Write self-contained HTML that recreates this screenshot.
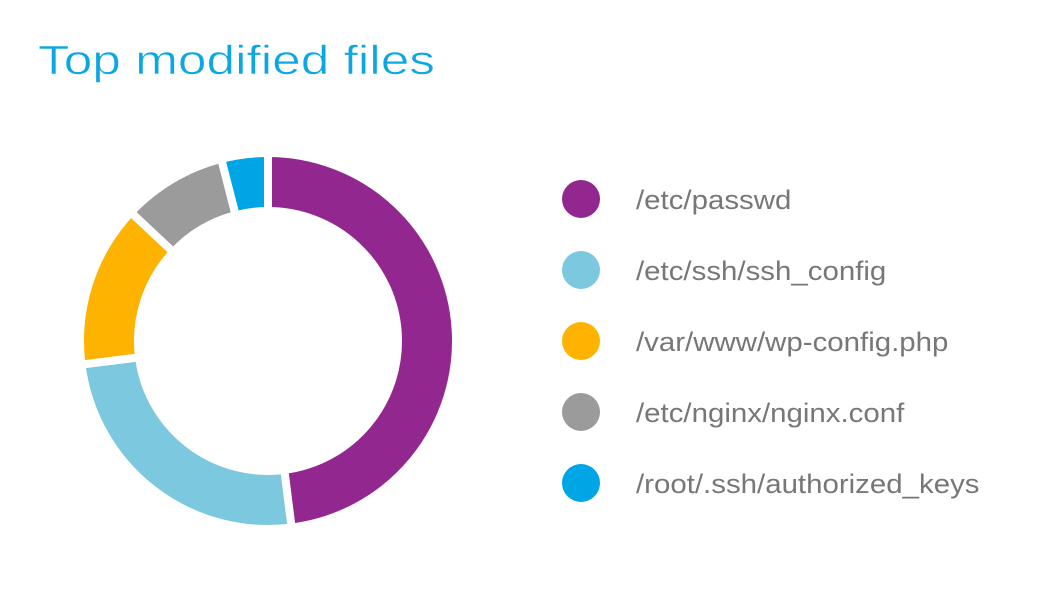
<!DOCTYPE html>
<html><head><meta charset="utf-8"><style>
body{margin:0;background:#fff;width:1050px;height:600px;overflow:hidden}
</style></head><body>
<svg width="1050" height="600">
<text x="38" y="74" font-family="Liberation Sans, sans-serif" font-size="41" fill="#0ba7e3" stroke="#fff" stroke-width="0.6" textLength="397" lengthAdjust="spacingAndGlyphs">Top modified files</text>
<g id="donut"></g>
<g id="legend"></g>
</svg>
<script>
const categories=["/etc/passwd","/etc/ssh/ssh_config","/var/www/wp-config.php","/etc/nginx/nginx.conf","/root/.ssh/authorized_keys"];
const values=[48,25,14,9,4];
const colors=["#92278f","#7bc8df","#fdb300","#9b9b9b","#00a5e5"];
const NS="http://www.w3.org/2000/svg";
const cx=268,cy=341,R=188,r=130;
const total=values.reduce((a,b)=>a+b,0);
function pt(a,rad){return [cx+rad*Math.sin(a),cy-rad*Math.cos(a)];}
let acc=0;
const donut=document.getElementById('donut');
values.forEach((v,i)=>{
  const a0=acc/total*2*Math.PI;acc+=v;const a1=acc/total*2*Math.PI;
  const big=(a1-a0)>Math.PI?1:0;
  const p0=pt(a0,R),p1=pt(a1,R),q1=pt(a1,r),q0=pt(a0,r);
  const p=document.createElementNS(NS,'path');
  p.setAttribute('d',`M${p0}A${R},${R} 0 ${big} 1 ${p1}L${q1}A${r},${r} 0 ${big} 0 ${q0}Z`);
  p.setAttribute('fill',colors[i]);p.setAttribute('stroke','#fff');p.setAttribute('stroke-width','8');
  
  
  donut.appendChild(p);
});
const legend=document.getElementById('legend');
categories.forEach((c,i)=>{
  const y=199+i*71;
  const ci=document.createElementNS(NS,'circle');
  ci.setAttribute('cx',581);ci.setAttribute('cy',y);ci.setAttribute('r',19);ci.setAttribute('fill',colors[i]);
  
  
  legend.appendChild(ci);
  const t=document.createElementNS(NS,'text');
  t.setAttribute('x',636);t.setAttribute('y',y+10);t.setAttribute('font-family','Liberation Sans, sans-serif');
  t.setAttribute('font-size','27');t.setAttribute('fill','#777');t.textContent=c;
  
  
  legend.appendChild(t);
  const w=t.getComputedTextLength();
  t.setAttribute('textLength',(w*1.09).toFixed(1));
  t.setAttribute('lengthAdjust','spacingAndGlyphs');
});
</script>
</body></html>
